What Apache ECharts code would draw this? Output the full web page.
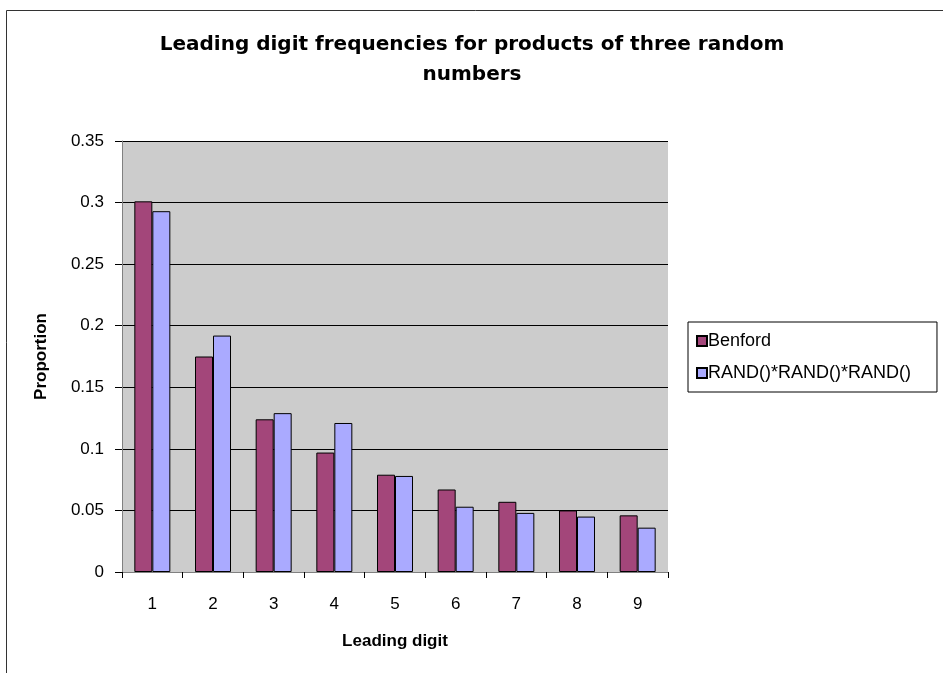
<!DOCTYPE html>
<html>
<head>
<meta charset="utf-8">
<script src="https://cdn.jsdelivr.net/npm/echarts@6/dist/echarts.min.js"></script>
<style>
html,body{margin:0;padding:0;background:#fff;}
#chart{width:943px;height:673px;}
</style>
</head>
<body>
<div id="chart"></div>
<script>
const categories = ['1','2','3','4','5','6','7','8','9'];
const benford = [0.301, 0.175, 0.124, 0.097, 0.079, 0.067, 0.057, 0.050, 0.046];
const randProduct = [0.293, 0.192, 0.129, 0.121, 0.078, 0.053, 0.048, 0.045, 0.036];
const yTicks = { min: 0, max: 0.35, interval: 0.05 };

const FONT = '"Liberation Sans", Arial, sans-serif';
const chart = echarts.init(document.getElementById('chart'), null, {renderer:'canvas'});
chart.setOption({
  animation: false,
  backgroundColor: '#fff',
  title: {
    text: 'Leading digit frequencies for products of three random\nnumbers',
    left: 467, top: 25, textAlign: 'center',
    textStyle: { fontFamily: '"DejaVu Sans", sans-serif', fontWeight: 'bold', fontSize: 20, lineHeight: 30, color: '#000' }
  },
  graphic: [
    { type: 'rect', shape: { x: 6.5, y: 10.5, width: 960, height: 700 }, style: { fill: null, stroke: '#333', lineWidth: 1 }, z: -1 }
  ],
  legend: {
    orient: 'vertical',
    left: 688, top: 322,
    padding: [10, 26, 10, 8],
    itemGap: 14,
    itemWidth: 10, itemHeight: 10,
    borderColor: '#000', borderWidth: 1,
    backgroundColor: '#fff',
    icon: 'rect',
    textStyle: { fontFamily: FONT, fontSize: 18, color: '#000', padding: [0,0,0,-4] },
    data: ['Benford', 'RAND()*RAND()*RAND()']
  },
  grid: { left: 122, top: 141, right: 275, bottom: 101, show: true, backgroundColor: '#CCCCCC', borderWidth: 0 },
  xAxis: {
    type: 'category', data: categories,
    name: 'Leading digit', nameLocation: 'middle', nameGap: 61,
    nameTextStyle: { fontFamily: FONT, fontWeight: 'bold', fontSize: 17, color: '#000' },
    axisLine: { lineStyle: { color: '#808080', width: 1 } },
    axisTick: { show: true, length: 6, lineStyle: { color: '#000' } },
    axisLabel: { fontFamily: FONT, fontSize: 17, color: '#000', margin: 24 }
  },
  yAxis: {
    type: 'value', min: yTicks.min, max: yTicks.max, interval: yTicks.interval,
    name: 'Proportion', nameLocation: 'middle', nameGap: 72, nameRotate: 90,
    nameTextStyle: { fontFamily: FONT, fontWeight: 'bold', fontSize: 17, color: '#000' },
    axisLine: { show: true, lineStyle: { color: '#808080', width: 1 } },
    axisTick: { show: true, length: 7, lineStyle: { color: '#000' } },
    axisLabel: { fontFamily: FONT, fontSize: 17, color: '#000', margin: 18,
      formatter: v => String(Math.round(v*100)/100) },
    splitLine: { show: true, lineStyle: { color: '#000', width: 1 } }
  },
  series: [
    { name: 'Benford', type: 'bar', data: benford, barWidth: 18, barGap: '0%',
      itemStyle: { color: '#A3467A', borderColor: '#000', borderWidth: 1 } },
    { name: 'RAND()*RAND()*RAND()', type: 'bar', data: randProduct, barWidth: 18, barGap: '0%',
      itemStyle: { color: '#AAAAFF', borderColor: '#000', borderWidth: 1 } }
  ]
});
</script>
</body>
</html>
